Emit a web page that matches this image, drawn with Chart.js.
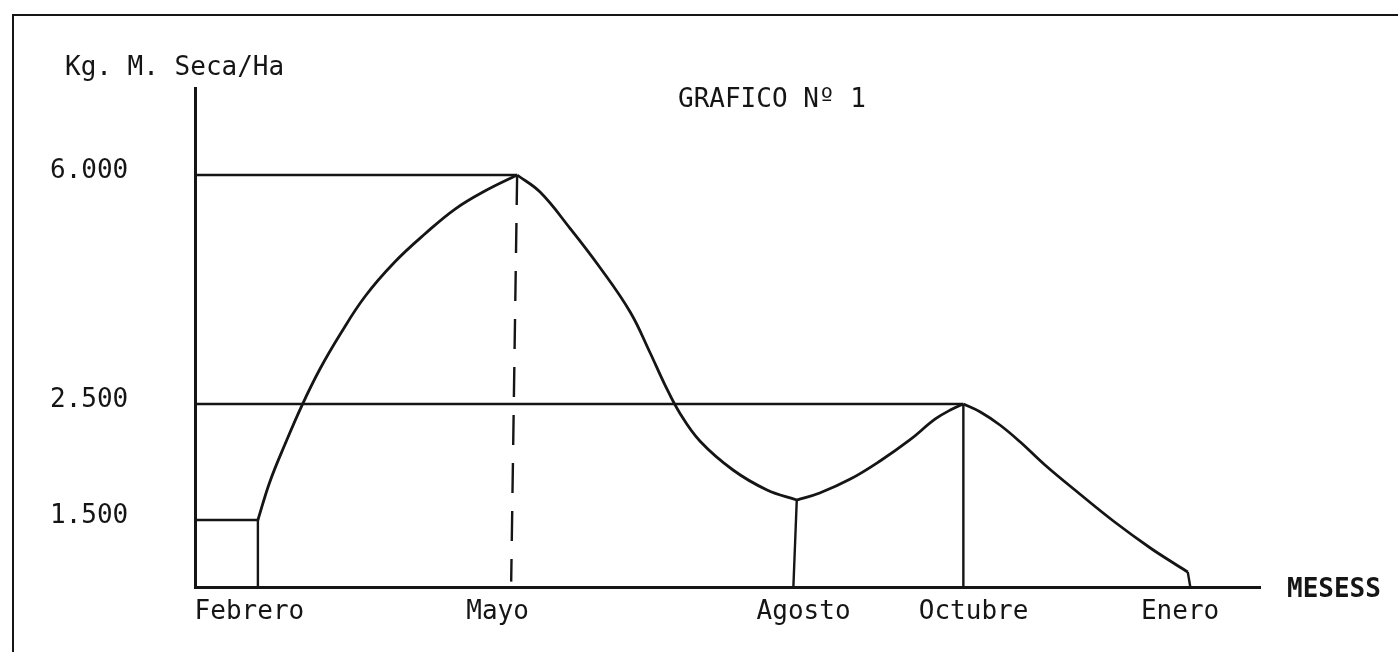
<!DOCTYPE html>
<html>
<head>
<meta charset="utf-8">
<script src="https://cdn.jsdelivr.net/npm/chart.js@4/dist/chart.umd.min.js"></script>
<style>
  html, body { margin: 0; padding: 0; background: #fff; overflow: hidden; }
  #frame {
    position: absolute; left: 12px; top: 14px; right: 0; bottom: 0;
    border-top: 2.5px solid #151515; border-left: 2.5px solid #151515;
  }
  #c { position: absolute; left: 0; top: 0; }
</style>
</head>
<body>
<div id="frame"></div>
<canvas id="c" width="1398" height="652"></canvas>
<script>
// x in months from the y axis, y in kg of dry matter per ha
const months = ["Febrero", "Mayo", "Agosto", "Octubre", "Enero"];
const monthLabelAt = [0.64, 3.56, 7.16, 9.16, 11.59];
const yTicks = [1500, 2500, 6000];
const yTickLabels = ["1.500", "2.500", "6.000"];

// growth curve, in four arcs
const riseX = [0.74, 0.88, 1.06, 1.26, 1.47, 1.71, 2.0, 2.35, 2.71, 3.06, 3.41, 3.79];
const riseY = [1500, 1828, 2155, 2491, 3035, 3570, 4143, 4670, 5105, 5480, 5755, 6000];
const fallX = [3.79, 4.06, 4.41, 4.76, 5.12, 5.35, 5.53, 5.71, 5.94, 6.33, 6.73, 7.08];
const fallY = [6000, 5739, 5189, 4594, 3906, 3295, 2790, 2414, 2181, 1931, 1759, 1672];
const regrowX = [7.08, 7.35, 7.71, 8.06, 8.41, 8.71, 8.91, 9.04];
const regrowY = [1672, 1733, 1853, 2009, 2190, 2371, 2457, 2500];
const declineX = [9.04, 9.24, 9.47, 9.71, 10.0, 10.41, 10.82, 11.24, 11.53, 11.68];
const declineY = [2500, 2431, 2319, 2172, 1974, 1724, 1485, 1291, 1172, 1112];

// guide lines
const febBoxX = [0, 0.74, 0.74];
const febBoxY = [1500, 1500, 1000];
const line6000X = [0, 3.79];
const line6000Y = [6000, 6000];
const line2500X = [0, 9.04];
const line2500Y = [2500, 2500];
const mayoX = [3.79, 3.72];
const mayoY = [6000, 1040];
const agostoX = [7.08, 7.04];
const agostoY = [1672, 1000];
const octubreX = [9.04, 9.04];
const octubreY = [2500, 1000];
const eneroX = [11.68, 11.71];
const eneroY = [1112, 1000];

const INK = "#151515";
const MONO = "'DejaVu Sans Mono', monospace";

const pts = (xs, ys) => xs.map((x, i) => ({ x, y: ys[i] }));

// hand drawn y axis: spacing between ticks is not proportional
class PiecewiseScale extends Chart.LinearScale {
  _frac(value) {
    const s = this.options.stops, f = this.options.fracs;
    if (value <= s[0]) return f[0];
    for (let i = 0; i < s.length - 1; i++) {
      if (value <= s[i + 1]) {
        return f[i] + ((value - s[i]) / (s[i + 1] - s[i])) * (f[i + 1] - f[i]);
      }
    }
    return f[f.length - 1];
  }
  getPixelForValue(value) {
    return this.bottom - this._frac(value) * (this.bottom - this.top);
  }
  getValueForPixel(pixel) {
    const s = this.options.stops, f = this.options.fracs;
    const t = (this.bottom - pixel) / (this.bottom - this.top);
    for (let i = 0; i < f.length - 1; i++) {
      if (t <= f[i + 1]) {
        return s[i] + ((t - f[i]) / (f[i + 1] - f[i])) * (s[i + 1] - s[i]);
      }
    }
    return s[s.length - 1];
  }
}
PiecewiseScale.id = "piecewise";
PiecewiseScale.defaults = Chart.LinearScale.defaults;
Chart.register(PiecewiseScale);

function curve(xs, ys) {
  return {
    data: pts(xs, ys),
    borderColor: INK,
    borderWidth: 2.8,
    pointRadius: 0,
    tension: 0.4,
  };
}
function guide(xs, ys, dash) {
  return {
    data: pts(xs, ys),
    borderColor: INK,
    borderWidth: 2.4,
    pointRadius: 0,
    tension: 0,
    borderDash: dash || [],
  };
}

const annotations = {
  id: "annotations",
  afterDraw(chart) {
    const ctx = chart.ctx;
    ctx.save();
    ctx.fillStyle = INK;
    ctx.textBaseline = "alphabetic";
    ctx.textAlign = "left";
    ctx.font = "26px " + MONO;
    ctx.fillText("Kg. M. Seca/Ha", 65, 75);
    ctx.fillText("GRAFICO Nº 1", 678, 107);
    ctx.font = "bold 26px " + MONO;
    ctx.fillText("MESESS", chart.chartArea.right + 27, chart.chartArea.bottom + 10);
    ctx.restore();
  },
};

new Chart(document.getElementById("c"), {
  type: "line",
  data: {
    datasets: [
      guide(febBoxX, febBoxY),
      guide(line6000X, line6000Y),
      guide(line2500X, line2500Y),
      guide(mayoX, mayoY, [30, 18]),
      guide(agostoX, agostoY),
      guide(octubreX, octubreY),
      guide(eneroX, eneroY),
      curve(riseX, riseY),
      curve(fallX, fallY),
      curve(regrowX, regrowY),
      curve(declineX, declineY),
    ],
  },
  options: {
    responsive: false,
    animation: false,
    events: [],
    layout: { padding: { left: 50, top: 88, right: 138, bottom: 15 } },
    plugins: { legend: { display: false }, tooltip: { enabled: false } },
    scales: {
      x: {
        type: "linear",
        min: 0,
        max: 12.53,
        grid: { display: false, drawTicks: false },
        border: { display: true, color: INK, width: 3 },
        afterBuildTicks: (axis) => {
          axis.ticks = monthLabelAt.map((v) => ({ value: v }));
        },
        afterFit: (axis) => { axis.height = 50; },
        ticks: {
          autoSkip: false,
          maxRotation: 0,
          padding: 10,
          color: INK,
          font: { family: MONO, size: 26 },
          callback: (v, i) => months[i],
        },
      },
      y: {
        type: "piecewise",
        min: 1000,
        max: 7300,
        stops: [1000, 1500, 2500, 6000, 7300],
        fracs: [0, 67 / 499, 183 / 499, 412 / 499, 1],
        grid: { display: false, drawTicks: false },
        border: { display: true, color: INK, width: 3 },
        afterBuildTicks: (axis) => {
          axis.ticks = yTicks.map((v) => ({ value: v }));
        },
        afterFit: (axis) => { axis.width = 145; },
        ticks: {
          crossAlign: "far",
          labelOffset: -4,
          color: INK,
          font: { family: MONO, size: 26 },
          callback: (v, i) => yTickLabels[i],
        },
      },
    },
  },
  plugins: [annotations],
});
</script>
</body>
</html>
